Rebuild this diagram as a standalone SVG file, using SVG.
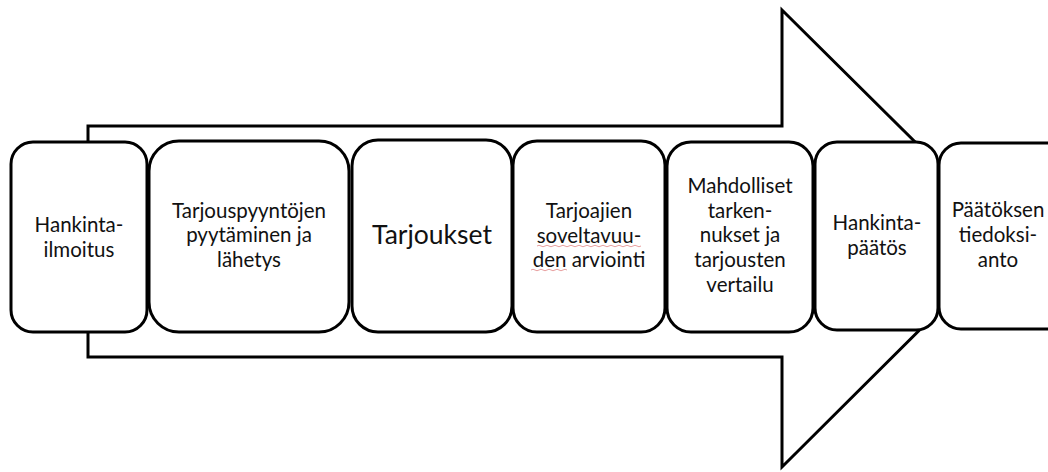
<svg xmlns="http://www.w3.org/2000/svg" width="1048" height="472" viewBox="0 0 1048 472">
  <style>
    .step { fill: #ffffff; stroke: #000000; stroke-width: 3; }
    .lbl { font-family: Lato, "Open Sans", "Liberation Sans", sans-serif; font-size: 20.5px; fill: #111111; text-anchor: middle; }
    .big { font-size: 26.5px; }
    .spell { fill: none; stroke: #e8a0a0; stroke-width: 1; }
  </style>
  <rect width="1048" height="472" fill="#ffffff"/>

  <!-- large process arrow in the background -->
  <g id="connectors">
    <path d="M88,126 L782,126 L782,10 L1012,238 L782,467 L782,357 L88,357 Z" fill="#ffffff" stroke="#000000" stroke-width="3" stroke-linejoin="miter"/>
  </g>

  <g id="hankintailmoitus">
    <rect class="step" x="11" y="142" width="136" height="190" rx="22"/>
    <text class="lbl" x="79" y="232">Hankinta-</text>
    <text class="lbl" x="79" y="257">ilmoitus</text>
  </g>

  <g id="tarjouspyynnot">
    <rect class="step" x="149" y="141" width="200" height="191" rx="30"/>
    <text class="lbl" x="249" y="218">Tarjouspyyntöjen</text>
    <text class="lbl" x="249" y="242">pyytäminen ja</text>
    <text class="lbl" x="249" y="267">lähetys</text>
  </g>

  <g id="tarjoukset">
    <rect class="step" x="352" y="140" width="160" height="192" rx="26"/>
    <text class="lbl big" x="432" y="244">Tarjoukset</text>
  </g>

  <g id="soveltuvuus">
    <rect class="step" x="513" y="141" width="152" height="191" rx="24"/>
    <text class="lbl" x="589" y="218">Tarjoajien</text>
    <text class="lbl" x="589" y="243">soveltavuu-</text>
    <text class="lbl" x="589" y="267">den arviointi</text>
    <path class="spell" d="M537,246 q2,-1.5 4,0 t4,0 t4,0 t4,0 t4,0 t4,0 t4,0 t4,0 t4,0 t4,0 t4,0 t4,0 t4,0 t4,0 t4,0 t4,0 t4,0 t4,0 t4,0 t4,0 t4,0 t4,0 t4,0 t4,0 t4,0 t4,0"/>
    <path class="spell" d="M531,270 q2,-1.5 4,0 t4,0 t4,0 t4,0 t4,0 t4,0 t4,0 t4,0 t4,0"/>
  </g>

  <g id="vertailu">
    <rect class="step" x="667" y="142" width="146" height="190" rx="24"/>
    <text class="lbl" x="740" y="193">Mahdolliset</text>
    <text class="lbl" x="740" y="218">tarken-</text>
    <text class="lbl" x="740" y="242">nukset ja</text>
    <text class="lbl" x="740" y="267">tarjousten</text>
    <text class="lbl" x="740" y="292">vertailu</text>
  </g>

  <g id="hankintapaatos">
    <rect class="step" x="815" y="142" width="123" height="188" rx="22"/>
    <text class="lbl" x="877" y="230">Hankinta-</text>
    <text class="lbl" x="877" y="255">päätös</text>
  </g>

  <g id="tiedoksianto">
    <rect class="step" x="939" y="143" width="130" height="186" rx="22"/>
    <text class="lbl" x="998" y="217">Päätöksen</text>
    <text class="lbl" x="998" y="242">tiedoksi-</text>
    <text class="lbl" x="998" y="267">anto</text>
  </g>
</svg>
